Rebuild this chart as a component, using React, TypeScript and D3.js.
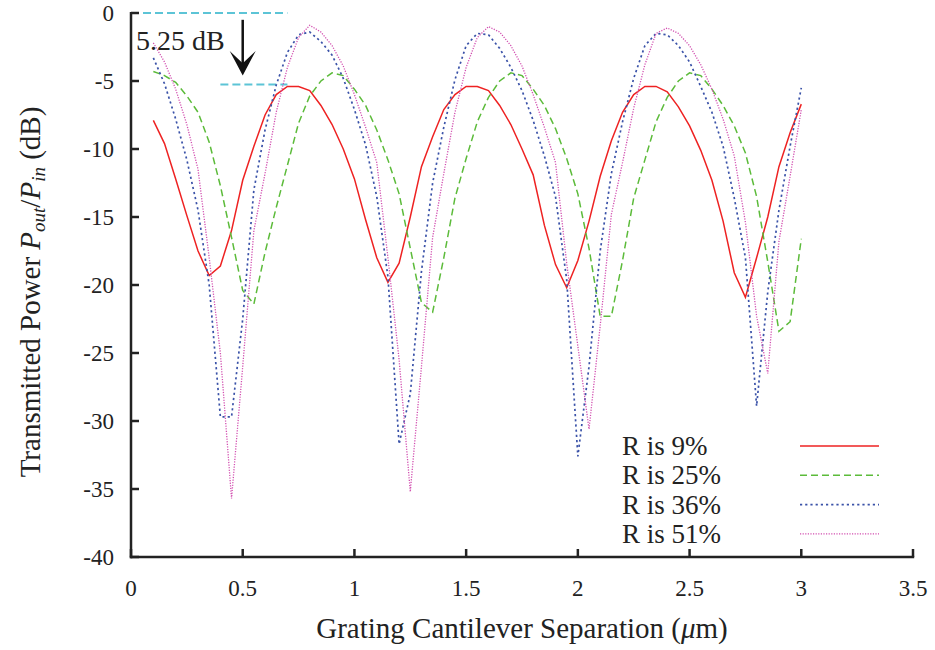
import React, { useEffect } from "react";
import * as d3 from "d3";

// grating separation in µm, sampled every 0.05 from 0.1 to 3.0
const separation = [
  0.1, 0.15, 0.2, 0.25, 0.3, 0.35, 0.4, 0.45, 0.5, 0.55, 0.6, 0.65, 0.7, 0.75, 0.8, 0.85, 0.9, 0.95, 1.0, 1.05,
  1.1, 1.15, 1.2, 1.25, 1.3, 1.35, 1.4, 1.45, 1.5, 1.55, 1.6, 1.65, 1.7, 1.75, 1.8, 1.85, 1.9, 1.95, 2.0, 2.05,
  2.1, 2.15, 2.2, 2.25, 2.3, 2.35, 2.4, 2.45, 2.5, 2.55, 2.6, 2.65, 2.7, 2.75, 2.8, 2.85, 2.9, 2.95, 3.0,
];

const r9 = [
  -7.9, -9.6, -12.2, -14.9, -17.5, -19.3, -18.6, -16.0, -12.3, -9.8, -7.5, -6.0, -5.4, -5.4, -5.7, -6.8, -8.2, -10.0, -12.2, -15.2,
  -18.0, -19.8, -18.4, -15.0, -11.3, -9.1, -7.1, -6.0, -5.4, -5.4, -5.7, -6.8, -8.2, -10.0, -11.9, -15.6, -18.5, -20.2, -18.2, -15.3,
  -12.0, -9.4, -7.3, -6.0, -5.4, -5.4, -5.8, -6.9, -8.3, -10.1, -12.3, -15.3, -19.1, -20.9, -18.0, -15.0, -11.3, -8.8, -6.7,
];

const r25 = [
  -4.3, -4.6, -5.1, -6.1, -7.3, -9.5, -12.7, -16.5, -20.4, -21.4, -17.6, -14.3, -11.2, -8.1, -6.1, -5.0, -4.4, -4.6, -5.6, -6.8,
  -8.6, -10.8, -13.3, -17.3, -21.3, -22.0, -18.0, -13.6, -10.7, -8.0, -6.2, -5.0, -4.4, -4.6, -5.6, -6.8, -8.5, -10.7, -13.3, -17.3,
  -22.3, -22.3, -18.2, -13.6, -10.8, -8.0, -6.2, -5.0, -4.4, -4.6, -5.6, -6.8, -8.3, -10.3, -13.5, -18.3, -23.4, -22.7, -16.6,
];

const r36 = [
  -3.3, -5.2, -7.8, -10.8, -14.5, -20.0, -29.7, -29.7, -22.5, -13.0, -8.6, -5.3, -2.9, -1.6, -1.4, -2.1, -3.1, -4.8, -7.1, -9.7,
  -13.5, -19.4, -31.7, -28.0, -19.0, -12.5, -8.4, -4.9, -2.4, -1.5, -1.6, -2.6, -4.0, -5.7, -7.9, -10.5, -13.5, -19.6, -32.6, -26.0,
  -17.5, -11.8, -8.0, -4.8, -2.4, -1.5, -1.6, -2.4, -3.6, -5.4, -7.3, -9.8, -13.6, -18.0, -28.9, -20.5, -14.5, -9.8, -5.5,
];

const r51 = [
  -2.2, -3.6, -5.6, -8.2, -11.5, -18.0, -25.0, -35.7, -26.0, -16.0, -11.8, -7.3, -4.0, -1.8, -0.9, -1.4, -2.4, -3.9, -6.0, -8.4,
  -11.0, -18.0, -25.5, -35.2, -26.0, -16.5, -11.8, -7.3, -4.0, -1.8, -1.0, -1.4, -2.4, -3.9, -6.0, -8.4, -11.0, -18.4, -24.5, -30.6,
  -23.0, -14.8, -11.0, -7.0, -3.8, -1.5, -1.1, -1.5, -2.4, -3.8, -5.6, -7.8, -10.5, -15.4, -22.3, -26.5, -16.8, -12.0, -7.1,
];

const seriesLabels = ["R is 9%", "R is 25%", "R is 36%", "R is 51%"];
const seriesValues = [r9, r25, r36, r51];
const seriesColors = ["#ee2222", "#5cbb3a", "#3a52a8", "#d24fb0"];
const seriesDash = ["none", "7 4", "2.2 3", "1.2 1.4"];
const seriesWidth = [1.5, 1.5, 1.7, 1.3];

const xTicks = [0, 0.5, 1, 1.5, 2, 2.5, 3, 3.5];
const yTicks = [0, -5, -10, -15, -20, -25, -30, -35, -40];

// annotation: 5.25 dB drop marked with two reference lines
const refLevels = [0, -5.25];
const refStart = [0, 0.4];
const refEnd = 0.7;

const font = "'Liberation Serif', 'Times New Roman', serif";

const App = () => {
  useEffect(() => {
    document.body.style.margin = "0";
  }, []);

  const width = 935;
  const height = 650;
  const margin = { top: 13, right: 22, bottom: 93, left: 131 };

  const x = d3.scaleLinear().domain([0, 3.5]).range([margin.left, width - margin.right]);
  const y = d3.scaleLinear().domain([-40, 0]).range([height - margin.bottom, margin.top]);

  const line = d3
    .line<number>()
    .x((_, i) => x(separation[i]))
    .y(d => y(d));

  const fmt = (v: number) => (v === 0 ? "0" : String(v));
  const axisColor = "#222";

  return (
    <svg width={width} height={height} style={{ display: "block", fontFamily: font }}>
      {/* reference lines */}
      {refLevels.map((lv, i) => (
        <line
          key={"ref" + i}
          x1={x(refStart[i])}
          x2={x(refEnd)}
          y1={y(lv)}
          y2={y(lv)}
          stroke="#5cc4d6"
          strokeWidth={2}
          strokeDasharray="8 4"
        />
      ))}

      {/* data */}
      {seriesValues.map((vals, i) => (
        <path
          key={seriesLabels[i]}
          d={line(vals) || ""}
          fill="none"
          stroke={seriesColors[i]}
          strokeWidth={seriesWidth[i]}
          strokeDasharray={seriesDash[i]}
        />
      ))}

      {/* arrow */}
      <line x1={x(0.5)} x2={x(0.5)} y1={y(-0.5)} y2={y(-4.2)} stroke="#111" strokeWidth={2.5} />
      <path
        d={`M${x(0.5) - 13},${y(-2.8)} L${x(0.5)},${y(-4.6)} L${x(0.5) + 13},${y(-2.8)} L${x(0.5)},${y(-3.7)} Z`}
        fill="#111"
      />
      <text x={136} y={50} fontSize={28} fill="#222">
        5.25 dB
      </text>

      {/* axes */}
      <line x1={x(0)} x2={x(0)} y1={y(0) - 1} y2={y(-40) + 1.2} stroke={axisColor} strokeWidth={2.5} />
      <line x1={x(0) - 1.2} x2={x(3.5) + 1.2} y1={y(-40)} y2={y(-40)} stroke={axisColor} strokeWidth={2.5} />
      {yTicks.map(t => (
        <g key={"yt" + t}>
          <line x1={x(0)} x2={x(0) + 8} y1={y(t)} y2={y(t)} stroke={axisColor} strokeWidth={2.5} />
          <text x={114} y={y(t)} dy="0.35em" textAnchor="end" fontSize={23} fill="#222">
            {fmt(t)}
          </text>
        </g>
      ))}
      {xTicks.map(t => (
        <g key={"xt" + t}>
          <line x1={x(t)} x2={x(t)} y1={y(-40)} y2={y(-40) - 8} stroke={axisColor} strokeWidth={2.5} />
          <text x={x(t)} y={596} textAnchor="middle" fontSize={23} fill="#222">
            {fmt(t)}
          </text>
        </g>
      ))}

      {/* axis titles */}
      <text x={(x(0) + x(3.5)) / 2} y={638} textAnchor="middle" fontSize={29} fill="#222">
        Grating Cantilever Separation (<tspan fontStyle="italic">μ</tspan>m)
      </text>
      <text transform={`translate(40, ${292}) rotate(-90)`} textAnchor="middle" fontSize={29} fill="#222">
        Transmitted Power <tspan fontStyle="italic">P</tspan>
        <tspan fontStyle="italic" fontSize={19} dy={5}>out</tspan>
        <tspan dy={-5}>/</tspan>
        <tspan fontStyle="italic">P</tspan>
        <tspan fontStyle="italic" fontSize={19} dy={5}>in</tspan>
        <tspan dy={-5}> (dB)</tspan>
      </text>

      {/* legend */}
      {seriesLabels.map((lab, i) => (
        <g key={"lg" + i} transform={`translate(0, ${446 + i * 29.3})`}>
          <text x={622} y={9} fontSize={27} fill="#222">
            {lab}
          </text>
          <line
            x1={800}
            x2={879}
            y1={0}
            y2={0}
            stroke={seriesColors[i]}
            strokeWidth={seriesWidth[i]}
            strokeDasharray={seriesDash[i]}
          />
        </g>
      ))}
    </svg>
  );
};

export default App;
